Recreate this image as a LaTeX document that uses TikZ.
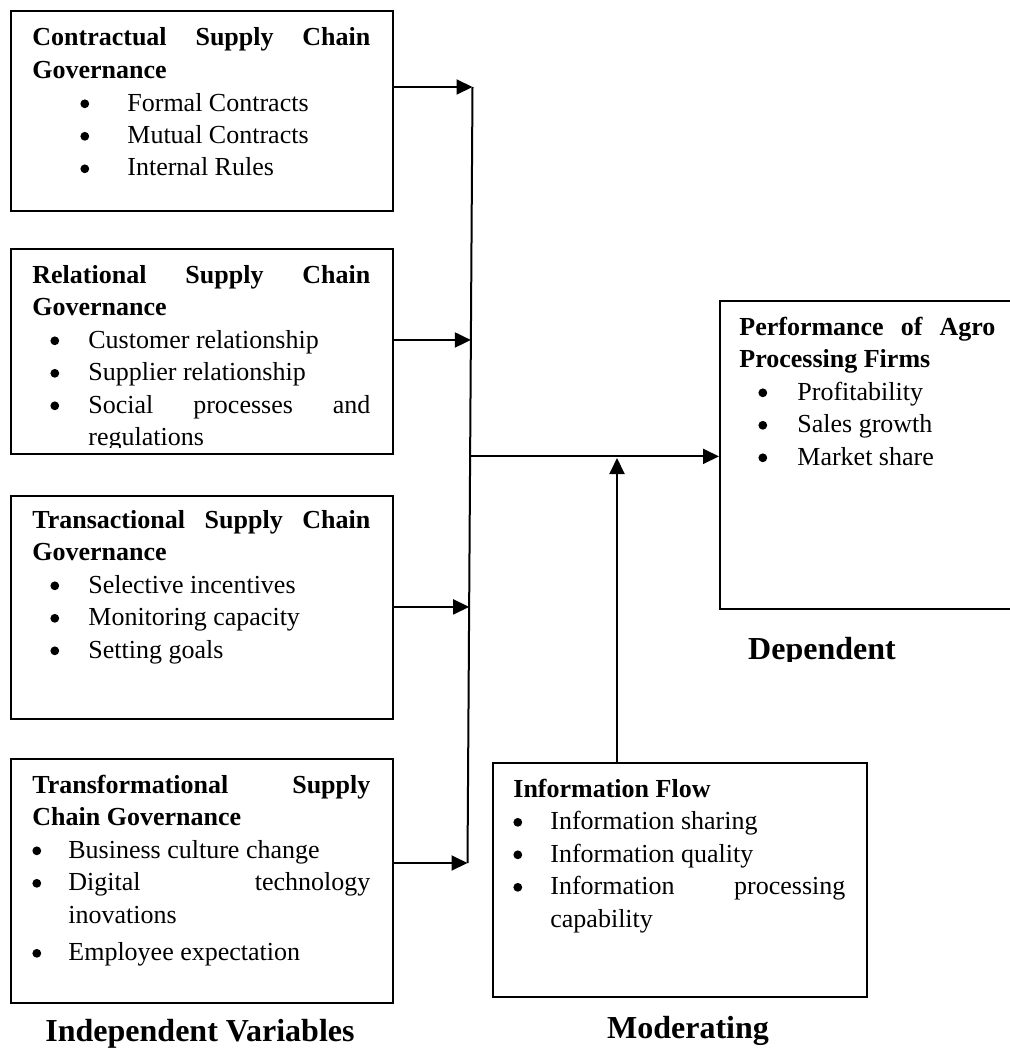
\documentclass[tikz,border=0pt]{standalone}
\usepackage{fontspec}
\setmainfont{Liberation Serif}
\usetikzlibrary{arrows.meta, calc}

\hyphenpenalty=10000
\tolerance=9999
\setlength\parskip{0pt}

\newcommand\dotmark{\tikz[baseline=-3.6pt]\fill (0,0) circle[radius=2.2pt];}

% bullet list: #1 = bullet indent, #2 = text indent
\newenvironment{pointlist}[2]{%
  \begin{list}{\dotmark}{%
    \setlength\leftmargin{#2}%
    \setlength\labelsep{0pt}%
    \setlength\labelwidth{\dimexpr#2-#1\relax}%
    \setlength\itemsep{0pt}\setlength\parsep{0pt}%
    \setlength\topsep{0pt}\setlength\partopsep{0pt}%
    \renewcommand\makelabel[1]{##1\hfil}}}%
  {\end{list}}

\newcommand\bodyfont{\fontsize{13}{16.25}\selectfont}
\newcommand\headfont{\fontsize{16}{19}\selectfont\bfseries}

\tikzset{
  frame/.style={draw, line width=1pt, inner sep=0pt, anchor=north west},
  boxtext/.style={anchor=base west, inner sep=0pt, text width=#1,
    align=justify, font=\bodyfont},
  varname/.style={anchor=base, inner sep=0pt, font=\headfont},
  wire/.style={line width=1pt},
  link/.style={line width=1pt, -{Triangle[length=8pt,width=7.5pt]}}
}

\begin{document}
\begin{tikzpicture}[x=0.5pt, y=-0.5pt]
  \useasboundingbox (0,0) rectangle (1009,1049);

  % boxes
  \node[frame, minimum width=191pt, minimum height=100pt] (contract) at (10,10) {};
  \node[frame, minimum width=191pt, minimum height=102.5pt] (relation) at (10,248) {};
  \node[frame, minimum width=191pt, minimum height=111.5pt] (transact) at (10,495) {};
  \node[frame, minimum width=191pt, minimum height=122pt] (transform) at (10,758) {};
  \node[frame, minimum width=150pt, minimum height=154pt] (perf) at (719,300) {};
  \node[frame, minimum width=187pt, minimum height=117pt] (info) at (492,762) {};

  % texts
  \node[boxtext=169pt] (contract-t) at (32,46) {%
    {\bfseries Contractual Supply Chain Governance}\par
    \begin{pointlist}{24pt}{47.5pt}
      \item Formal Contracts
      \item Mutual Contracts
      \item Internal Rules
    \end{pointlist}};
  \begin{scope}
    \clip (10,248) rectangle (392,447);
    \node[boxtext=169pt] (relation-t) at (32,283) {%
      {\bfseries Relational Supply Chain Governance}\par
      \begin{pointlist}{9pt}{28pt}
        \item Customer relationship
        \item Supplier relationship
        \item Social processes and regulations
      \end{pointlist}};
  \end{scope}
  \node[boxtext=169pt] (transact-t) at (32,528) {%
    {\bfseries Transactional Supply Chain Governance}\par
    \begin{pointlist}{9pt}{28pt}
      \item Selective incentives
      \item Monitoring capacity
      \item Setting goals
    \end{pointlist}};
  \node[boxtext=169pt] (transform-t) at (32,793) {%
    {\bfseries Transformational Supply Chain Governance}\par
    \begin{pointlist}{0pt}{18pt}
      \item Business culture change
      \item Digital technology inovations
      \item[\dotmark]\vspace{2.5pt}Employee expectation
    \end{pointlist}};
  \node[boxtext=128pt] (perf-t) at (739,335) {%
    {\bfseries Performance of Agro Processing Firms}\par
    \begin{pointlist}{9.5pt}{29pt}
      \item Profitability
      \item Sales growth
      \item Market share
    \end{pointlist}};
  \node[boxtext=166pt] (info-t) at (513,797) {%
    {\bfseries Information Flow}\par
    \begin{pointlist}{0pt}{18.5pt}
      \item Information sharing
      \item Information quality
      \item Information processing capability
    \end{pointlist}};

  % captions
  \begin{scope}
    \clip (700,600) rectangle (950,661);
    \node[varname] (dep) at (822,659) {Dependent};
  \end{scope}
  \node[varname] (indep) at (200,1041) {Independent Variables};
  \node[varname] (moder) at (688,1038) {Moderating};

  % collecting line and arrows
  \coordinate (bustop) at (472.5,87);
  \coordinate (busbot) at (467.5,863);
  \coordinate (j2) at ($(bustop)!0.326!(busbot)$);
  \coordinate (jm) at ($(bustop)!0.476!(busbot)$);
  \coordinate (j3) at ($(bustop)!0.670!(busbot)$);
  \coordinate (mod) at (617,458);
  \draw[wire] (bustop) -- (busbot);
  \draw[link] (contract.east |- bustop) -- (bustop);
  \draw[link] (relation.east |- j2) -- (j2);
  \draw[link] (transact.east |- j3) -- (j3);
  \draw[link] (transform.east |- busbot) -- (busbot);
  \draw[link] (jm) -- (jm -| perf.west);
  \draw[link] (info.north -| mod) -- (mod);
\end{tikzpicture}
\end{document}
